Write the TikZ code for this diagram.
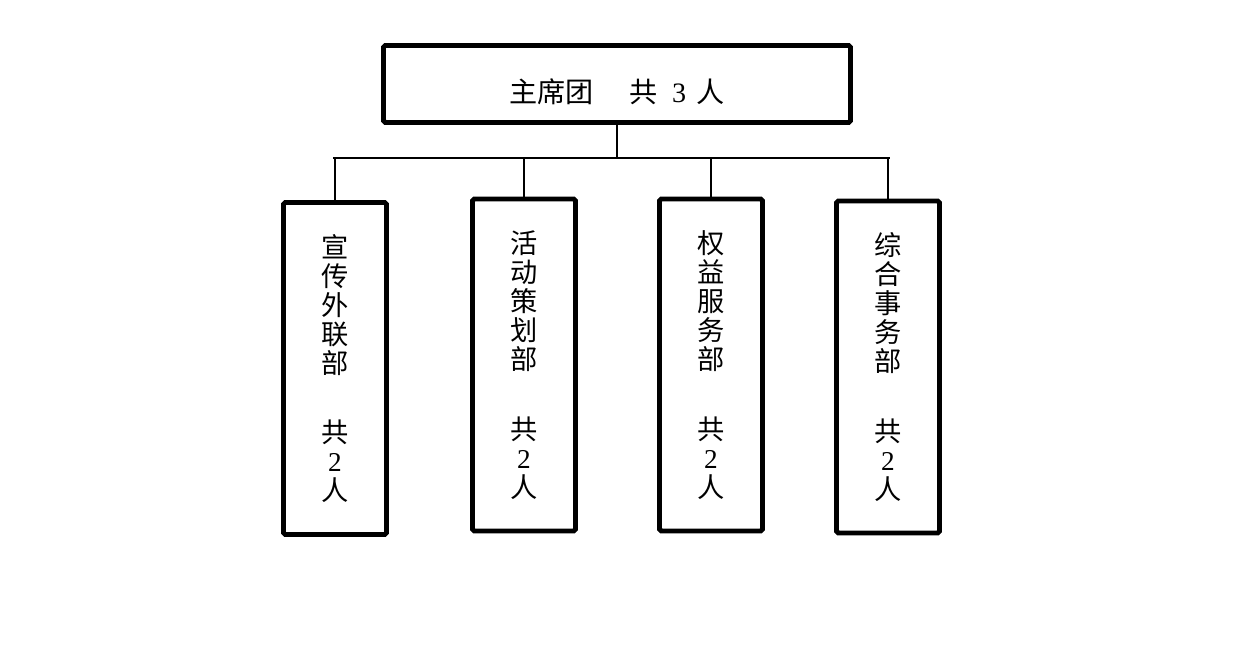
\documentclass[tikz,border=0pt]{standalone}
\usepackage{fontspec}
\setmainfont{Liberation Serif}
\newfontfamily\cjkfont{Noto Sans CJK SC}
\usetikzlibrary{positioning}

\begin{document}
\begin{tikzpicture}[
  x=1cm, y=1cm,
  chair/.style={draw, line width=2.8pt, rounded corners=1pt,
                minimum width=9.34cm, minimum height=1.54cm,
                text height=0.76cm, text depth=0pt,
                font={\cjkfont\fontsize{16pt}{19pt}\selectfont}},
  dept/.style={draw, line width=2.8pt, rounded corners=1pt,
               minimum width=2.06cm, minimum height=6.64cm, align=center,
               font={\cjkfont\fontsize{15.5pt}{16.5pt}\selectfont}},
  bus/.style={line width=0.8pt},
  drop/.style={line width=1.5pt}
]
\useasboundingbox (0,0) rectangle (24.82,13.2);

%% ---- nivel superior ----
\node[chair] (chair) at (12.34,11.52)
  {主席团\hspace{0.7cm}共\hspace{0.3cm}{\rmfamily 3}\hspace{0.2cm}人};

%% ---- departamentos ----
\node[dept] (xc) at ( 6.70,5.83) {宣\\传\\外\\联\\部\\[23pt]共\\{\rmfamily 2}\\人};
\node[dept] (hd) at (10.48,5.90) {活\\动\\策\\划\\部\\[23pt]共\\{\rmfamily 2}\\人};
\node[dept] (qy) at (14.22,5.90) {权\\益\\服\\务\\部\\[23pt]共\\{\rmfamily 2}\\人};
\node[dept] (zh) at (17.76,5.86) {综\\合\\事\\务\\部\\[23pt]共\\{\rmfamily 2}\\人};

%% ---- conexiones ----
\coordinate (busL) at (6.66,10.04);
\coordinate (busR) at (17.80,10.04);
\draw[bus]  (chair.south) -- (chair.south |- busL);
\draw[bus]  (busL) -- (busR);
\draw[drop] (xc.north |- busL) -- (xc.north);
\draw[drop] (hd.north |- busL) -- (hd.north);
\draw[drop] (qy.north |- busL) -- (qy.north);
\draw[drop] (zh.north |- busL) -- (zh.north);

\end{tikzpicture}
\end{document}
